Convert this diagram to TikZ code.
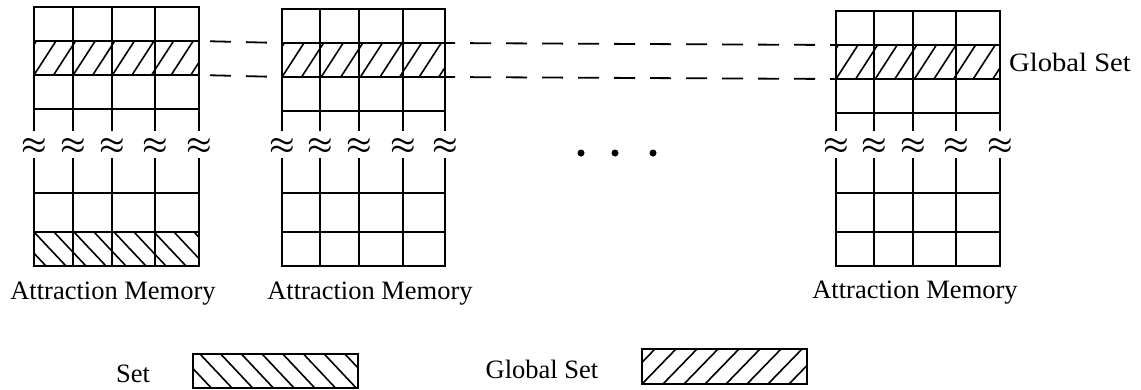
\documentclass[tikz,border=0pt]{standalone}
\usepackage{fontspec}
\setmainfont{Liberation Serif}
\tikzset{
  gridline/.style={line width=2.0pt, line cap=rect},
  hatchline/.style={line width=1.6pt},
  conn/.style={line width=1.8pt, dash pattern=on 21pt off 15pt},
  lbl/.style={font=\fontsize{26.5}{30}\selectfont, inner sep=0pt, anchor=base},
  apx/.style={font=\fontsize{24.88}{30}\selectfont\boldmath, inner sep=0pt, scale=1.15},
  dotnode/.style={circle, fill=black, inner sep=0pt, minimum size=7pt},
  legendbox/.style={line width=2.0pt},
}
% x1, ytop, x2, ybot, run, spacing, phase
\newcommand{\hatchbox}[7]{%
  \begin{scope}
    \clip (#1,#2) rectangle (#3,#4);
    \foreach \k in {-3,...,12}{
      \draw[hatchline] ({#1+#7+\k*#6},#2) -- ({#1+#7+\k*#6-#5},#4);
    }
  \end{scope}
}
% name, x0..x4, top
\newcommand{\memgrid}[7]{%
  \foreach \yy in {0,34,68,102} \draw[gridline] (#2,{#7+\yy}) -- (#6,{#7+\yy});
  \foreach \xx in {#2,#3,#4,#5,#6} {
    \draw[gridline] (\xx,#7) -- (\xx,130);
    \draw[gridline] (\xx,159) -- (\xx,266);
    \node[apx] (#1-apx-\xx) at (\xx,146) {$\approx$};
  }
  \foreach \yy in {193,232,266} \draw[gridline] (#2,\yy) -- (#6,\yy);
  \coordinate (#1-la) at (#2,{#7+34});
  \coordinate (#1-lb) at (#2,{#7+68});
  \coordinate (#1-ra) at (#6,{#7+34});
  \coordinate (#1-rb) at (#6,{#7+68});
}
\begin{document}
\begin{tikzpicture}[x=1pt,y=-1pt]
\useasboundingbox (0,0) rectangle (1141,389);

% hatching in the grids
\hatchbox{34}{41}{199}{75}{22}{19.6}{22}
\hatchbox{282}{43}{445}{77}{22}{19.6}{22}
\hatchbox{836}{45}{1000}{79}{22}{19.6}{22}
\hatchbox{34}{232}{199}{266}{-32}{20}{0}

% grids
\memgrid{g1}{34}{73}{112}{155}{199}{7}
\memgrid{g2}{282}{320}{359}{403}{445}{9}
\memgrid{g3}{836}{874}{913}{956}{1000}{11}

% global set dashed lines
\draw[conn, dash phase=25pt] (g1-ra) -- (g2-la);
\draw[conn, dash phase=25pt] (g1-rb) -- (g2-lb);
\draw[conn, dash phase=11pt] (g2-ra) -- (g3-la);
\draw[conn, dash phase=11pt] (g2-rb) -- (g3-lb);

% dots
\node[dotnode] (dot1) at (581,153) {};
\node[dotnode] (dot2) at (615,153) {};
\node[dotnode] (dot3) at (653,153) {};

% labels
\node[lbl] (am1) at (113,299) {Attraction Memory};
\node[lbl] (am2) at (370,299) {Attraction Memory};
\node[lbl] (am3) at (915,298) {Attraction Memory};
\node[lbl, anchor=base west, xscale=1.08] (gsl) at (1009,71) {Global Set};

% legend
\node[lbl] (setlbl) at (133,382) {Set};
\hatchbox{193}{354}{358}{388}{-32}{20.7}{7}
\draw[legendbox] (193,354) rectangle (358,388);
\node[lbl] (gslbl) at (542,378) {Global Set};
\hatchbox{642}{349}{807}{384}{34}{21}{34}
\draw[legendbox] (642,349) rectangle (807,384);
\end{tikzpicture}
\end{document}
